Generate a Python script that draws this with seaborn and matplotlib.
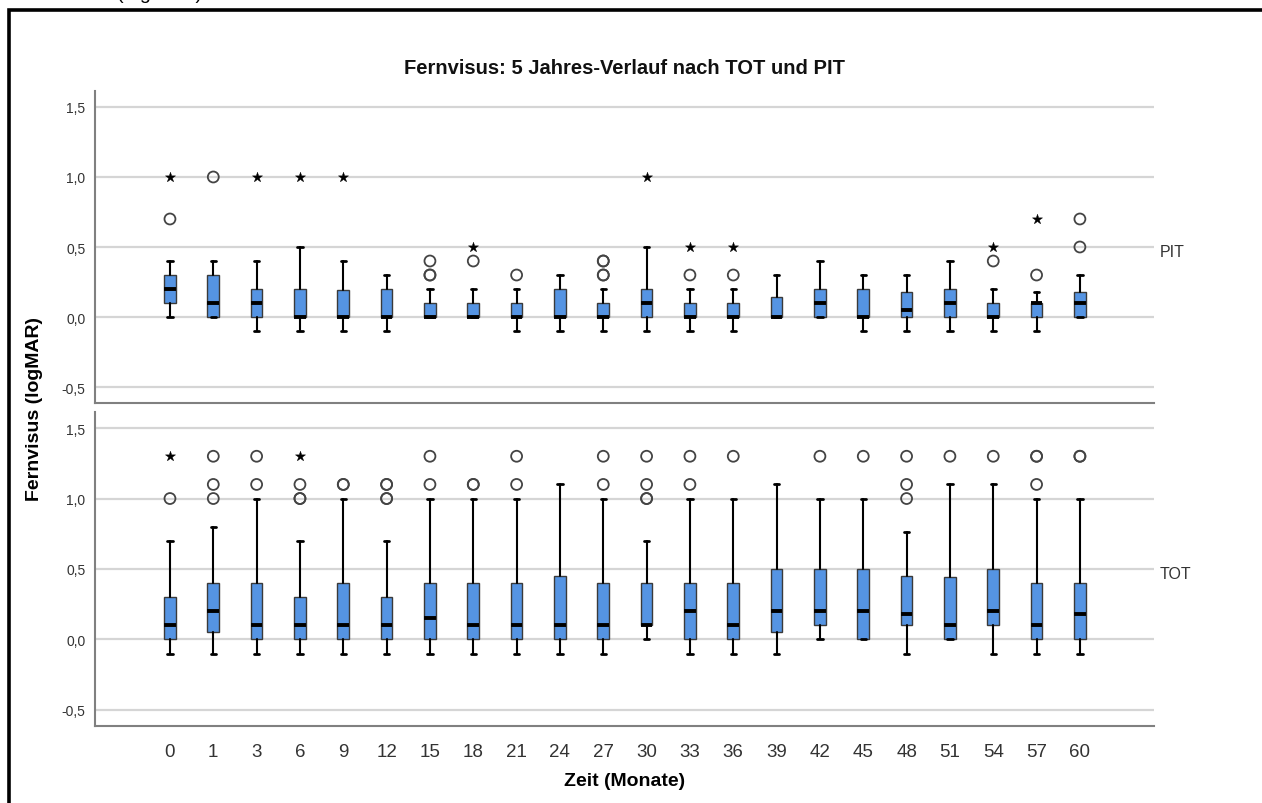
import numpy as np
import pandas as pd
import matplotlib
matplotlib.use("Agg")
import matplotlib.pyplot as plt
import matplotlib.transforms as mtransforms
from matplotlib.patches import Rectangle
import seaborn as sns

# months of follow-up (x categories)
months = [0, 1, 3, 6, 9, 12, 15, 18, 21, 24, 27, 30, 33, 36, 39, 42, 45, 48, 51, 54, 57, 60]
y_ticks = [-0.5, 0.0, 0.5, 1.0, 1.5]
y_tick_labels = ["-0,5", "0,0", "0,5", "1,0", "1,5"]

# PIT (top panel) box statistics, logMAR
pit_lo = [0.0, 0.0, -0.1, -0.1, -0.1, -0.1, 0.0, 0.0, -0.1, -0.1, -0.1, -0.1, -0.1, -0.1, 0.0, 0.0, -0.1, -0.1, -0.1, -0.1, -0.1, 0.0]
pit_q1 = [0.1, 0.0, 0.0, 0.0, 0.0, 0.0, 0.0, 0.0, 0.0, 0.0, 0.0, 0.0, 0.0, 0.0, 0.0, 0.0, 0.0, 0.0, 0.0, 0.0, 0.0, 0.0]
pit_med = [0.2, 0.1, 0.1, 0.0, 0.0, 0.0, 0.0, 0.0, 0.0, 0.0, 0.0, 0.1, 0.0, 0.0, 0.0, 0.1, 0.0, 0.05, 0.1, 0.0, 0.1, 0.1]
pit_q3 = [0.3, 0.3, 0.2, 0.2, 0.19, 0.2, 0.1, 0.1, 0.1, 0.2, 0.1, 0.2, 0.1, 0.1, 0.14, 0.2, 0.2, 0.18, 0.2, 0.1, 0.1, 0.18]
pit_hi = [0.4, 0.4, 0.4, 0.5, 0.4, 0.3, 0.2, 0.2, 0.2, 0.3, 0.2, 0.5, 0.2, 0.2, 0.3, 0.4, 0.3, 0.3, 0.4, 0.2, 0.18, 0.3]
pit_out = [[0.7], [1.0], [], [], [], [], [0.3, 0.3, 0.4], [0.4], [0.3], [], [0.3, 0.3, 0.4, 0.4], [], [0.3], [0.3], [], [], [], [], [], [0.4], [0.3], [0.5, 0.7]]
pit_ext = [[1.0], [], [1.0], [1.0], [1.0], [], [], [0.5], [], [], [], [1.0], [0.5], [0.5], [], [], [], [], [], [0.5], [0.7], []]

# TOT (bottom panel) box statistics, logMAR
tot_lo = [-0.1, -0.1, -0.1, -0.1, -0.1, -0.1, -0.1, -0.1, -0.1, -0.1, -0.1, 0.0, -0.1, -0.1, -0.1, 0.0, 0.0, -0.1, 0.0, -0.1, -0.1, -0.1]
tot_q1 = [0.0, 0.05, 0.0, 0.0, 0.0, 0.0, 0.0, 0.0, 0.0, 0.0, 0.0, 0.1, 0.0, 0.0, 0.05, 0.1, 0.0, 0.1, 0.0, 0.1, 0.0, 0.0]
tot_med = [0.1, 0.2, 0.1, 0.1, 0.1, 0.1, 0.15, 0.1, 0.1, 0.1, 0.1, 0.1, 0.2, 0.1, 0.2, 0.2, 0.2, 0.18, 0.1, 0.2, 0.1, 0.18]
tot_q3 = [0.3, 0.4, 0.4, 0.3, 0.4, 0.3, 0.4, 0.4, 0.4, 0.45, 0.4, 0.4, 0.4, 0.4, 0.5, 0.5, 0.5, 0.45, 0.44, 0.5, 0.4, 0.4]
tot_hi = [0.7, 0.8, 1.0, 0.7, 1.0, 0.7, 1.0, 1.0, 1.0, 1.1, 1.0, 0.7, 1.0, 1.0, 1.1, 1.0, 1.0, 0.76, 1.1, 1.1, 1.0, 1.0]
tot_out = [[1.0], [1.0, 1.1, 1.3], [1.1, 1.3], [1.0, 1.0, 1.1], [1.1, 1.1], [1.0, 1.0, 1.1, 1.1], [1.1, 1.3], [1.1, 1.1], [1.1, 1.3], [],
           [1.1, 1.3], [1.0, 1.0, 1.1, 1.3], [1.1, 1.3], [1.3], [], [1.3], [1.3], [1.0, 1.1, 1.3], [1.3], [1.3], [1.1, 1.3, 1.3], [1.3, 1.3]]
tot_ext = [[1.3], [], [], [1.3], [], [], [], [], [], [], [], [], [], [], [], [], [], [], [], [], [], []]

BOX_BLUE = "#5594E3"
GRID_GREY = "#D5D5D5"
SPINE_GREY = "#808080"
TEXT_GREY = "#333333"

sns.set_style("white")
plt.rcParams["font.family"] = ["Liberation Sans", "DejaVu Sans"]


def build_stats(lo, q1, med, q3, hi):
    return [
        {"whislo": a, "q1": b, "med": c, "q3": d, "whishi": e, "fliers": []}
        for a, b, c, d, e in zip(lo, q1, med, q3, hi)
    ]


def points_frame(groups):
    rows = [(i, v) for i, vals in enumerate(groups) for v in vals]
    return pd.DataFrame(rows, columns=["pos", "value"])


def draw_panel(ax, lo, q1, med, q3, hi, outliers, extremes, label):
    positions = np.arange(len(months))
    for yv in y_ticks:
        ax.axhline(yv, color=GRID_GREY, lw=1.6, zorder=0)

    ax.bxp(
        build_stats(lo, q1, med, q3, hi),
        positions=positions,
        widths=0.27,
        capwidths=0.12,
        showfliers=False,
        patch_artist=True,
        boxprops=dict(facecolor=BOX_BLUE, edgecolor="#3a3a3a", linewidth=1.0),
        medianprops=dict(color="black", linewidth=2.8, solid_capstyle="butt"),
        whiskerprops=dict(color="black", linewidth=1.5),
        capprops=dict(color="black", linewidth=2.0),
        zorder=3,
    )

    out_df = points_frame(outliers)
    if len(out_df):
        sns.scatterplot(
            data=out_df, x="pos", y="value", ax=ax, marker="o", s=62,
            facecolor="none", edgecolor="#444444", linewidth=1.3,
            legend=False, zorder=4,
        )
    ext_df = points_frame(extremes)
    if len(ext_df):
        sns.scatterplot(
            data=ext_df, x="pos", y="value", ax=ax, marker="*", s=58,
            color="black", edgecolor="black", linewidth=0.3,
            legend=False, zorder=4,
        )

    ax.set_xlim(-1.73, len(months) - 1 + 1.71)
    ax.set_ylim(-0.614, 1.614)
    ax.set_yticks(y_ticks)
    ax.set_yticklabels(y_tick_labels, fontsize=10, color=TEXT_GREY)
    ax.tick_params(axis="both", length=0)
    ax.tick_params(axis="y", pad=7)
    ax.set_xlabel("")
    ax.set_ylabel("")
    for side in ["top", "right"]:
        ax.spines[side].set_visible(False)
    for side in ["left", "bottom"]:
        ax.spines[side].set_color(SPINE_GREY)
        ax.spines[side].set_linewidth(1.5)

    trans = mtransforms.blended_transform_factory(ax.transAxes, ax.transData)
    ax.text(1.005, 0.47, label, transform=trans, fontsize=11.5, color=TEXT_GREY,
            ha="left", va="center")


fig = plt.figure(figsize=(12.62, 8.04), dpi=100)
ax_top = fig.add_axes([95 / 1262, 1 - 404 / 804, 1059 / 1262, 312 / 804])
ax_bot = fig.add_axes([95 / 1262, 1 - 727 / 804, 1059 / 1262, 314 / 804])

draw_panel(ax_top, pit_lo, pit_q1, pit_med, pit_q3, pit_hi, pit_out, pit_ext, "PIT")
draw_panel(ax_bot, tot_lo, tot_q1, tot_med, tot_q3, tot_hi, tot_out, tot_ext, "TOT")

ax_top.set_xticks(np.arange(len(months)))
ax_top.set_xticklabels([])
ax_bot.set_xticks(np.arange(len(months)))
ax_bot.set_xticklabels([str(m) for m in months], fontsize=13.5, color=TEXT_GREY)
ax_bot.tick_params(axis="x", pad=12)

fig.text(624.5 / 1262, 1 - 68 / 804, "Fernvisus: 5 Jahres-Verlauf nach TOT und PIT",
         ha="center", va="center", fontsize=14.5, fontweight="bold", color="#111111")
fig.text(624.5 / 1262, 1 - 782 / 804, "Zeit (Monate)", ha="center", va="center",
         fontsize=14, fontweight="bold", color="black")
fig.text(35 / 1262, 1 - 409 / 804, "Fernvisus (logMAR)", ha="center", va="center",
         rotation=90, fontsize=14, fontweight="bold", color="black")

# caption of the page, mostly cropped off at the top edge, and the frame
fig.text(117 / 1262, 1 + 1 / 804, "(Figur 12)", ha="left", va="baseline",
         fontsize=14, color="black")
fig.add_artist(Rectangle((8.5 / 1262, -0.02), 1.05, 1 - 10.5 / 804 + 0.02,
                         transform=fig.transFigure, fill=False, lw=2.6,
                         edgecolor="black", zorder=10))

fig.savefig("out.png", dpi=100)
